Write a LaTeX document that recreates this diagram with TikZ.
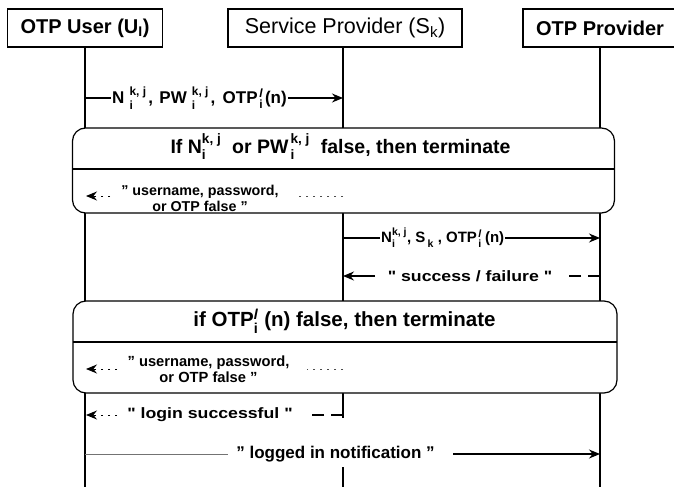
\documentclass[tikz,border=0pt]{standalone}
\usepackage{fontspec}
\usepackage{amsmath}
\setmainfont{Liberation Sans}
\newfontfamily\widesans[FakeStretch=1.18]{Liberation Sans}
\usetikzlibrary{arrows.meta}

% superscript and subscript stacked after a symbol
\newcommand\ssb[2]{\ensuremath{^{\text{#1}}_{\text{#2}}}}

\begin{document}
\begin{tikzpicture}[x=1pt, y=-1pt,
  head/.style={draw, line width=1.2pt, fill=white, minimum height=38pt, inner sep=0pt},
  life/.style={line width=1.4pt},
  frame/.style={draw, line width=1.2pt, rounded corners=13pt, fill=white},
  msg/.style={inner sep=1pt, fill=white},
  small/.style={font=\fontsize{14.3}{16}\selectfont\bfseries, align=center, inner sep=1pt},
  tip/.style={-{Stealth[length=11pt,width=9pt]}, line width=1.2pt},
  dotline/.style={dash pattern=on 2.5pt off 4.5pt, line width=1pt, black!70},
  dashline/.style={dash pattern=on 12pt off 7pt, line width=1.2pt}
]
\useasboundingbox (0,0) rectangle (674,487);
\fill[white] (0,0) rectangle (674,487);

% participants
\node[head, font=\fontsize{20}{22}\selectfont\bfseries, minimum width=155pt] (u) at (85,28) {OTP User (U\textsubscript{I})};
\node[head, font=\fontsize{21.5}{23}\selectfont, minimum width=234pt] (s) at (345,28) {Service Provider (S\textsubscript{k})};
\node[head, font=\fontsize{20}{22}\selectfont\bfseries, minimum width=154pt] (p) at (600,28) {OTP Provider};

% lifelines
\coordinate (uEnd) at (85,487);
\coordinate (sEnd) at (343,487);
\coordinate (pEnd) at (600,487);
\draw[life] (u.south) -- (uEnd);
\draw[life] (s.south -| sEnd) -- (sEnd);
\draw[life] (p.south) -- (pEnd);

% user -> service provider
\coordinate (m1a) at (85,98);
\coordinate (m1b) at (343,98);
\node[msg, font=\fontsize{17}{19}\selectfont\bfseries, anchor=west] (m1) at (111,98)
  {N\hspace{0.3em}\ssb{k, j}{i}\hspace{0.1em}, \hspace{0.1em}PW\hspace{0.3em}\ssb{k, j}{i}\hspace{0.1em}, \hspace{0.15em}OTP\hspace{0.1em}\ssb{\textit{l}}{i}\hspace{0.1em}(n)};
\draw[line width=1.2pt] (m1a) -- (m1.west);
\draw[tip] (m1.east) -- (m1b);

% first check
\node[frame, minimum width=542pt, minimum height=85pt] (f1) at (343.5,170.5) {};
\coordinate (f1l) at (73,169);
\coordinate (f1r) at (614,169);
\draw[line width=1.2pt] (f1l) -- (f1r);
\node[font=\fontsize{19.5}{21}\selectfont\bfseries] (f1t) at (340.5,147)
  {If N\ssb{k, j}{i}\ \ or PW\hspace{0.1em}\ssb{k, j}{i}\ \ false, then terminate};
\node[small] (f1m) at (200,198.5) {" username, password,\\or OTP false "};
\coordinate (f1a) at (343,196);
\coordinate (f1b) at (299,196);
\coordinate (f1c) at (110,196);
\coordinate (f1d) at (86,196);
\draw[dotline] (f1a) -- (f1b);
\draw[dotline, -{Stealth[length=11pt,width=9pt]}, black] (f1c) -- (f1d);

% service provider -> OTP provider
\coordinate (m3a) at (343,238);
\coordinate (m3b) at (600,238);
\node[msg, font=\fontsize{15}{17}\selectfont\bfseries, anchor=west] (m3) at (380,238)
  {N\ssb{k, j}{i}, S\hspace{0.15em}\ssb{}{k}\hspace{0.25em}, OTP\hspace{0.1em}\ssb{\textit{l}}{i}\hspace{0.2em}(n)};
\draw[line width=1.2pt] (m3a) -- (m3.west);
\draw[tip] (m3.east) -- (m3b);

% OTP provider -> service provider
\coordinate (m4a) at (600,276);
\coordinate (m4b) at (343,276);
\coordinate (m4c) at (566,276);
\coordinate (m4d) at (375,276);
\node[msg, font=\widesans\fontsize{15}{17}\selectfont\bfseries] (m4) at (470,276) {" success / failure "};
\draw[dashline] (m4a) -- (m4c);
\draw[tip] (m4d) -- (m4b);

% second check
\node[frame, minimum width=544pt, minimum height=92pt] (f2) at (345,347) {};
\coordinate (f2l) at (73,342);
\coordinate (f2r) at (617,342);
\draw[line width=1.2pt] (f2l) -- (f2r);
\node[font=\fontsize{20.5}{22}\selectfont\bfseries] (f2t) at (344.5,321)
  {if OTP\ssb{\textit{l}}{i}\ (n) false, then terminate};
\node[small, font=\fontsize{14.7}{16}\selectfont\bfseries] (f2m) at (208.5,369) {" username, password,\\or OTP false "};
\coordinate (f2a) at (343,369);
\coordinate (f2b) at (307,369);
\coordinate (f2c) at (117,369);
\coordinate (f2d) at (86,369);
\draw[dotline] (f2a) -- (f2b);
\draw[dotline, -{Stealth[length=11pt,width=9pt]}, black] (f2c) -- (f2d);

% service provider -> user
\node[msg, font=\widesans\fontsize{15}{17}\selectfont\bfseries] (m5) at (210,415) {" login successful "};
\coordinate (m5a) at (343,415);
\coordinate (m5b) at (305,415);
\coordinate (m5c) at (117,415);
\coordinate (m5d) at (86,415);
\draw[dashline] (m5a) -- (m5b);
\draw[dotline, -{Stealth[length=11pt,width=9pt]}, black] (m5c) -- (m5d);

% user -> OTP provider
\fill[white] (232,418) rectangle (440,467);
\node[msg, font=\fontsize{17}{19}\selectfont\bfseries, fill=none] (m6) at (335.5,454) {" logged in notification "};
\coordinate (m6a) at (85,454);
\coordinate (m6b) at (228,454);
\coordinate (m6c) at (453,454);
\coordinate (m6d) at (600,454);
\draw[line width=1pt, black!55] (m6a) -- (m6b);
\draw[tip] (m6c) -- (m6d);
\end{tikzpicture}
\end{document}
